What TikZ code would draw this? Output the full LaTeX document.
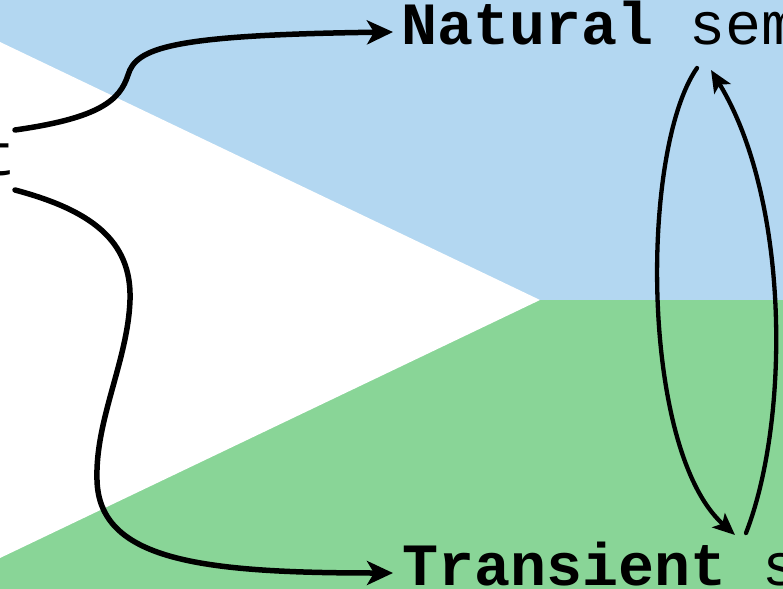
\documentclass[tikz,border=0pt]{standalone}
\usepackage{fontspec}
\setmonofont{Liberation Mono}
\usetikzlibrary{arrows.meta}
\definecolor{skyblue}{RGB}{179,215,241}
\definecolor{leafgreen}{RGB}{137,213,151}
\begin{document}
\begin{tikzpicture}[x=1bp,y=-1bp,
  lbl/.style={inner sep=0pt, anchor=base west, font=\fontsize{60bp}{70bp}\selectfont\ttfamily},
  bigarrow/.style={line width=5.5bp, line cap=round, -{Stealth[length=26bp,width=24bp,inset=7bp]}},
  cyclearrow/.style={line width=4.3bp, line cap=round, -{Stealth[length=22bp,width=19bp,inset=5bp]}}]
\useasboundingbox (0,0) rectangle (783,589);
\clip (0,0) rectangle (783,589);
% background regions
\fill[skyblue] (0,0) rectangle (783,300);
\fill[leafgreen] (0,300) rectangle (783,589);
\fill[white] (0,42) -- (540,300) -- (0,558) -- cycle;
% text nodes
\node[lbl] (src) at (-20,176) {t};
\node[lbl] (nat) at (401,45) {\textbf{Natural} sem};
\node[lbl] (tra) at (402,585) {\textbf{Transient} s};
% connector end points
\coordinate (s1) at (15,130);
\coordinate (s2) at (15,190);
\coordinate (natin) at (393,32);
\coordinate (train) at (393,573);
\coordinate (natdown) at (697,68);
\coordinate (traup) at (735,535);
\coordinate (trastart) at (746,533);
\coordinate (natup) at (711,70);
% arrows
\draw[bigarrow] (s1) .. controls (100,118) and (120,100) .. (128,75)
  .. controls (136,48) and (170,35) .. (natin);
\draw[bigarrow] (s2) .. controls (90,210) and (132,240) .. (130,300)
  .. controls (128,360) and (95,420) .. (97,480)
  .. controls (99,560) and (200,573) .. (train);
\draw[cyclearrow] (natdown) .. controls (640,150) and (640,450) .. (traup);
\draw[cyclearrow] (trastart) .. controls (790,420) and (790,200) .. (natup);
\end{tikzpicture}
\end{document}
